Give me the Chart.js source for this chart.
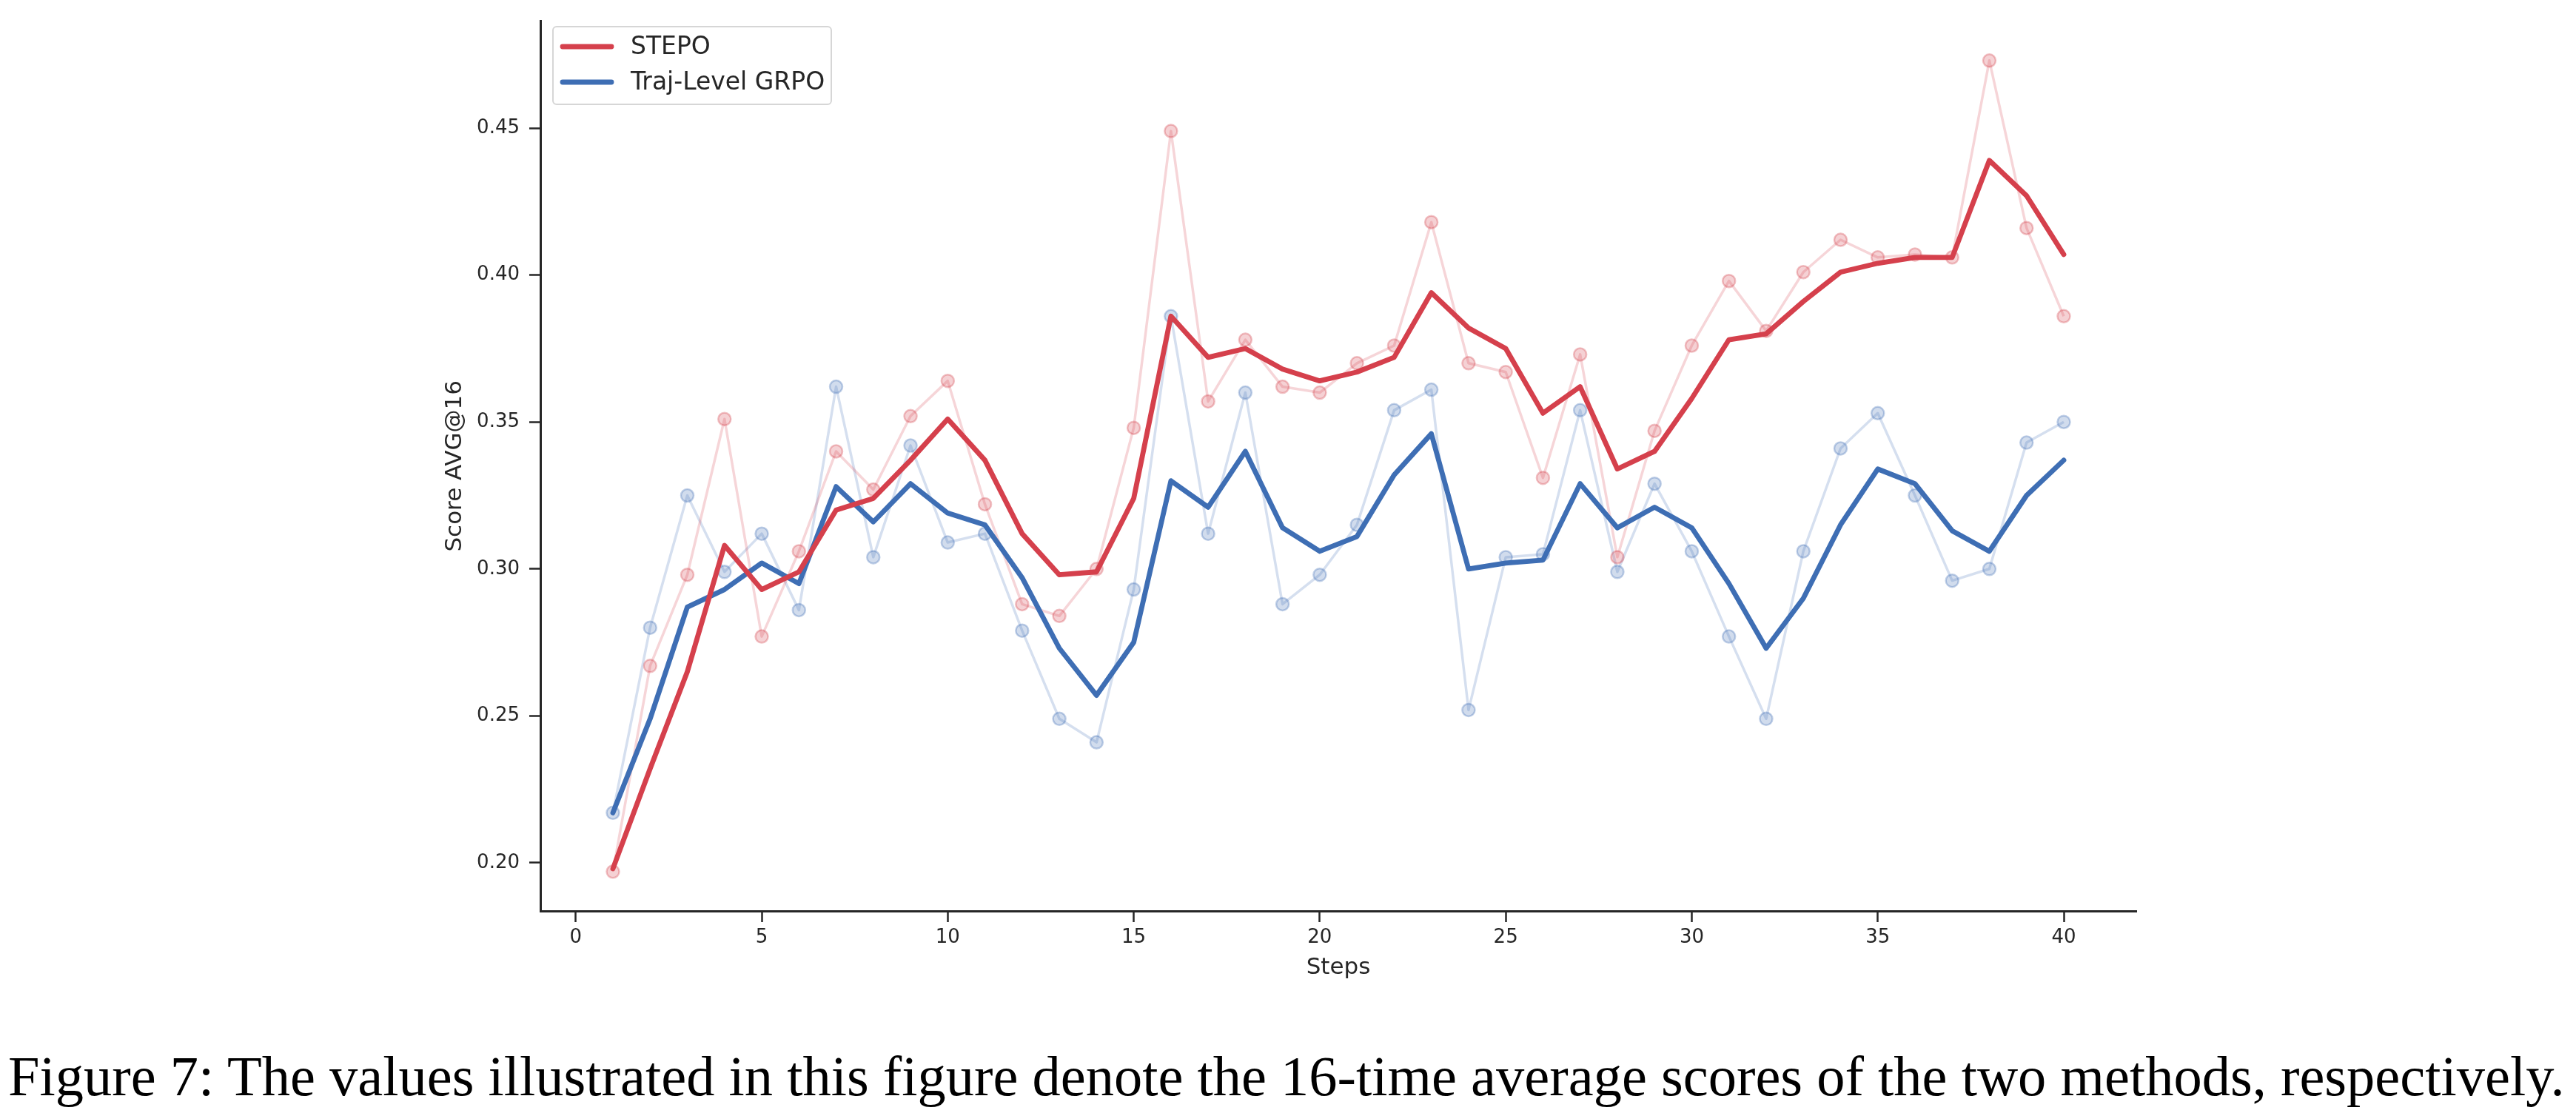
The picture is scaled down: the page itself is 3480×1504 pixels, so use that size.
<!DOCTYPE html>
<html>
<head>
<meta charset="utf-8">
<script src="https://cdn.jsdelivr.net/npm/chart.js@4.4.1/dist/chart.umd.min.js"></script>
<style>
  html, body { margin: 0; padding: 0; background: #fff; }
  #wrap { position: relative; width: 3480px; height: 1504px; overflow: hidden; }
  #chart { position: absolute; left: 0; top: 0; }
  #caption {
    position: absolute; left: 11px; top: 1410px; white-space: nowrap; line-height: 1;
    font-family: "Liberation Serif", "DejaVu Serif", serif; color: #000;
  }
</style>
</head>
<body>
<div id="wrap">
  <canvas id="chart" width="3480" height="1504"></canvas>
  <div id="caption">Figure 7: The values illustrated in this figure denote the 16-time average scores of the two methods, respectively.</div>
</div>
<script>
// --- DATOS ---
const steps = [1,2,3,4,5,6,7,8,9,10,11,12,13,14,15,16,17,18,19,20,21,22,23,24,25,26,27,28,29,30,31,32,33,34,35,36,37,38,39,40];

// valores crudos (puntos claros)
const stepoRaw = [0.197,0.267,0.298,0.351,0.277,0.306,0.340,0.327,0.352,0.364,
                  0.322,0.288,0.284,0.300,0.348,0.449,0.357,0.378,0.362,0.360,
                  0.370,0.376,0.418,0.370,0.367,0.331,0.373,0.304,0.347,0.376,
                  0.398,0.381,0.401,0.412,0.406,0.407,0.406,0.473,0.416,0.386];
const grpoRaw  = [0.217,0.280,0.325,0.299,0.312,0.286,0.362,0.304,0.342,0.309,
                  0.312,0.279,0.249,0.241,0.293,0.386,0.312,0.360,0.288,0.298,
                  0.315,0.354,0.361,0.252,0.304,0.305,0.354,0.299,0.329,0.306,
                  0.277,0.249,0.306,0.341,0.353,0.325,0.296,0.300,0.343,0.350];

// curvas suavizadas (líneas gruesas)
const stepoSmooth = [0.198,0.232,0.265,0.308,0.293,0.299,0.320,0.324,0.337,0.351,
                     0.337,0.312,0.298,0.299,0.324,0.386,0.372,0.375,0.368,0.364,
                     0.367,0.372,0.394,0.382,0.375,0.353,0.362,0.334,0.340,0.358,
                     0.378,0.380,0.391,0.401,0.404,0.406,0.406,0.439,0.427,0.407];
const grpoSmooth  = [0.217,0.249,0.287,0.293,0.302,0.295,0.328,0.316,0.329,0.319,
                     0.315,0.297,0.273,0.257,0.275,0.330,0.321,0.340,0.314,0.306,
                     0.311,0.332,0.346,0.300,0.302,0.303,0.329,0.314,0.321,0.314,
                     0.295,0.273,0.290,0.315,0.334,0.329,0.313,0.306,0.325,0.337];

const xTicks = [0, 5, 10, 15, 20, 25, 30, 35, 40];
const yTicks = [0.20, 0.25, 0.30, 0.35, 0.40, 0.45];
const seriesNames = ["STEPO", "Traj-Level GRPO"];

// --- ESTILO ---
const RED = "#d5404c";
const BLUE = "#3e6eb4";
const INK = "#262626";
const SANS = "'DejaVu Sans', sans-serif";

function rgba(hex, a) {
  const n = parseInt(hex.slice(1), 16);
  return `rgba(${(n >> 16) & 255},${(n >> 8) & 255},${n & 255},${a})`;
}
const pts = (ys) => steps.map((s, i) => ({ x: s, y: ys[i] }));

function rawSet(ys, color, order) {
  return {
    data: pts(ys), order,
    borderColor: rgba(color, 0.22), borderWidth: 3.5,
    pointRadius: 8.5, pointBorderWidth: 2.5,
    pointBackgroundColor: rgba(color, 0.24), pointBorderColor: rgba(color, 0.32),
    borderJoinStyle: "round", tension: 0, legend: false
  };
}
function smoothSet(ys, color, label, order) {
  return {
    label, data: pts(ys), order,
    borderColor: color, borderWidth: 6.8, pointRadius: 0,
    borderJoinStyle: "round", borderCapStyle: "round", tension: 0, legend: true
  };
}

// --- LEYENDA DENTRO DEL GRÁFICO ---
const insideLegend = {
  id: "insideLegend",
  afterDraw(chart) {
    const ctx = chart.ctx;
    const items = chart.data.datasets.filter(d => d.legend);
    const x0 = 747, y0 = 36, w = 376, h = 105;
    ctx.save();
    ctx.beginPath();
    ctx.roundRect(x0, y0, w, h, 5);
    ctx.fillStyle = "rgba(255,255,255,0.85)";
    ctx.fill();
    ctx.strokeStyle = "#d6d6d6";
    ctx.lineWidth = 2;
    ctx.stroke();
    ctx.font = "33px " + SANS;
    ctx.textBaseline = "middle";
    items.forEach((d, i) => {
      const cy = y0 + 27 + i * 48;
      ctx.strokeStyle = d.borderColor;
      ctx.lineWidth = 6.8;
      ctx.lineCap = "round";
      ctx.beginPath();
      ctx.moveTo(760, cy); ctx.lineTo(826, cy);
      ctx.stroke();
      ctx.fillStyle = INK;
      ctx.fillText(d.label, 852, cy + 1);
    });
    ctx.restore();
  }
};

new Chart(document.getElementById("chart"), {
  type: "line",
  data: {
    datasets: [
      smoothSet(stepoSmooth, RED, seriesNames[0], 0),
      smoothSet(grpoSmooth, BLUE, seriesNames[1], 1),
      rawSet(stepoRaw, RED, 2),
      rawSet(grpoRaw, BLUE, 3)
    ]
  },
  options: {
    responsive: false,
    animation: false,
    devicePixelRatio: 1,
    layout: { padding: { left: 596, top: 20, right: 594, bottom: 177 } },
    plugins: { legend: { display: false }, tooltip: { enabled: false } },
    scales: {
      x: {
        type: "linear", min: -0.95, max: 41.95,
        afterFit: (s) => { s.height = 96; },
        afterBuildTicks: (s) => { s.ticks = xTicks.map(v => ({ value: v })); },
        ticks: { includeBounds: false, color: INK, font: { family: SANS, size: 26 }, padding: 6, maxRotation: 0 },
        grid: { display: true, drawOnChartArea: false, drawTicks: true, tickLength: 15, tickWidth: 2.5, tickColor: INK },
        border: { display: true, color: INK, width: 3 },
        title: { display: true, text: "Steps", color: INK, font: { family: SANS, size: 31 }, padding: 0 }
      },
      y: {
        min: 0.1836, max: 0.4864,
        afterFit: (s) => { s.width = 134; },
        afterBuildTicks: (s) => { s.ticks = yTicks.map(v => ({ value: v })); },
        ticks: { includeBounds: false, color: INK, font: { family: SANS, size: 26 }, padding: 13,
                 callback: (v) => v.toFixed(2) },
        grid: { display: true, drawOnChartArea: false, drawTicks: true, tickLength: 15, tickWidth: 2.5, tickColor: INK },
        border: { display: true, color: INK, width: 3 },
        title: { display: true, text: "Score AVG@16", color: INK, font: { family: SANS, size: 31 }, padding: 0 }
      }
    }
  },
  plugins: [insideLegend]
});

// pie de figura ajustado al ancho del original, línea base en y≈1481
const cap = document.getElementById("caption");
const mctx = document.createElement("canvas").getContext("2d");
mctx.font = "100px 'Liberation Serif'";
const wAt100 = mctx.measureText(cap.textContent).width;
const fs = 100 * 3455 / wAt100;
cap.style.fontSize = fs.toFixed(2) + "px";
cap.style.top = (1481 - 0.837 * fs).toFixed(1) + "px";
</script>
</body>
</html>
